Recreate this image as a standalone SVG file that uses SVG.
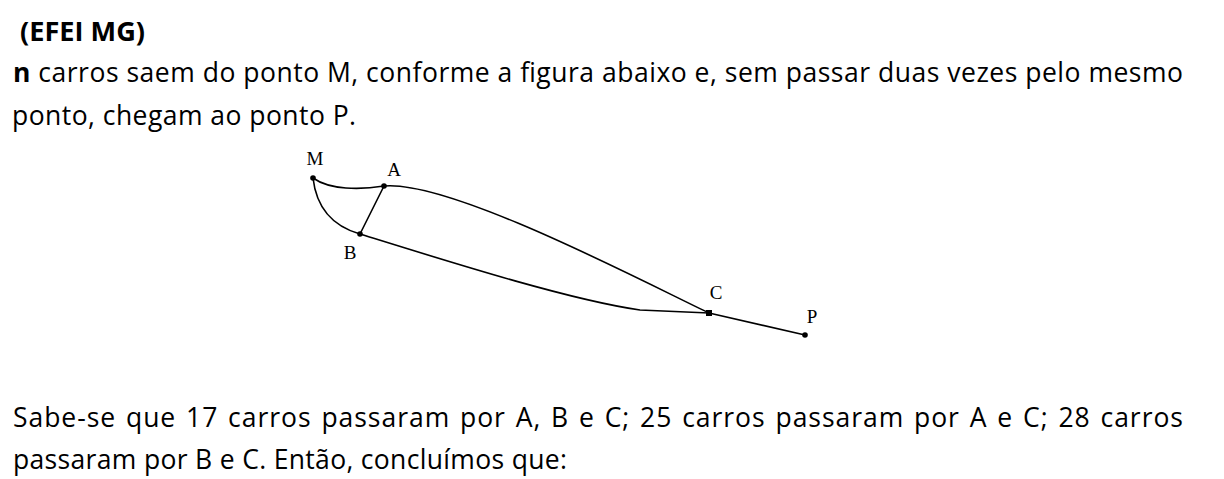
<svg xmlns="http://www.w3.org/2000/svg" width="1224" height="479" viewBox="0 0 1224 479">
<style>
.t{font-family:"Open Sans","Noto Sans","Liberation Sans",sans-serif;font-size:26.5px;fill:#000}
.b{font-weight:bold}
.lbl{font-family:"Liberation Serif","DejaVu Serif",serif;font-size:19px;fill:#000;text-anchor:middle}
.edge{fill:none;stroke:#000;stroke-width:1.6;stroke-linecap:round}
.dot{fill:#000}
</style>
<rect width="1224" height="479" fill="#fff"/>
<g id="text">
<text class="t b" x="20" y="41" textLength="125" lengthAdjust="spacingAndGlyphs">(EFEI MG)</text>
<text class="t" x="13" y="82" textLength="1170" lengthAdjust="spacing"><tspan class="b">n</tspan> carros saem do ponto M, conforme a figura abaixo e, sem passar duas vezes pelo mesmo</text>
<text class="t" x="12" y="125" textLength="344" lengthAdjust="spacing">ponto, chegam ao ponto P.</text>
<text class="t" x="13" y="427" textLength="1170" lengthAdjust="spacing" word-spacing="2">Sabe-se que 17 carros passaram por A, B e C; 25 carros passaram por A e C; 28 carros</text>
<text class="t" x="13" y="469" textLength="554" lengthAdjust="spacing">passaram por B e C. Então, concluímos que:</text>
</g>
<g id="connectors">
<path class="edge" d="M313,178 C330,190 360,190 384,186"/>
<path class="edge" d="M313,178 Q318,222 360,234"/>
<path class="edge" d="M384,186 L360,234"/>
<path class="edge" d="M384,186 C450,180 640,280 709,313"/>
<path class="edge" d="M360,234 C450,262 570,300 640,310 L709,313"/>
<path class="edge" d="M709,313 L805,335"/>
</g>
<g id="node-M"><circle class="dot" cx="313" cy="178" r="2.8"/><text class="lbl" x="315" y="165">M</text></g>
<g id="node-A"><circle class="dot" cx="384" cy="186" r="2.8"/><text class="lbl" x="394" y="176">A</text></g>
<g id="node-B"><circle class="dot" cx="360" cy="234" r="2.8"/><text class="lbl" x="350" y="259">B</text></g>
<g id="node-C"><rect class="dot" x="706" y="310" width="6" height="6"/><text class="lbl" x="716" y="299">C</text></g>
<g id="node-P"><circle class="dot" cx="805" cy="335" r="2.8"/><text class="lbl" x="812" y="323">P</text></g>
</svg>
